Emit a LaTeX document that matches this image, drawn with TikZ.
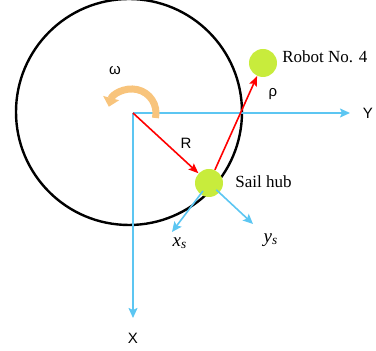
\documentclass[tikz,border=0pt]{standalone}
\usepackage{fontspec}
\setmainfont{Liberation Serif}
\newfontfamily\axisfont{Liberation Sans}
\usetikzlibrary{positioning, arrows.meta}
\definecolor{skyaxis}{HTML}{5CC6F2}
\definecolor{hubgreen}{HTML}{C8EC3C}
\definecolor{spinorange}{HTML}{F8C47C}

\begin{document}
\begin{tikzpicture}[
  x=0.5pt, y=-0.5pt,
  every node/.style={align=center, inner sep=1pt},
  axisarrow/.style={-{Stealth[length=5pt, width=4.5pt, inset=1pt]}, line width=0.8pt, skyaxis},
  vecarrow/.style={-{Stealth[length=5pt, width=4pt, inset=1pt]}, line width=0.8pt, red},
  spinarrow/.style={-{Triangle[length=4.5pt, width=8pt]}, line width=3.5pt, spinorange},
  ball/.style={circle, fill=hubgreen, minimum size=14pt, inner sep=0pt},
  serif/.style={font=\fontsize{8.5}{10}\selectfont},
  sans/.style={font=\axisfont\fontsize{7.5}{9}\selectfont}
]
\useasboundingbox (0,0) rectangle (376,351);

% Wheel
\node[draw=black, line width=1.2pt, circle, minimum size=113pt, inner sep=0pt] (wheel) at (129,112) {};

% Frame origin and axis ends
\coordinate (o) at (133,113);
\coordinate (xtip) at (133,318);
\coordinate (ytip) at (350,113);
\node[sans] (xlab) at (133,338) {X};
\node[sans] (ylab) at (368,113) {Y};

% Axes
\draw[axisarrow] (o) -- (xtip);
\draw[axisarrow] (o) -- (ytip);

% Rotation omega
\coordinate (spin) at (132,113);
\draw[spinarrow] ([shift={(12:24)}]spin) arc[start angle=12, end angle=-165, radius=24];
\node[sans] (omega) at (115,71) {ω};

% Sail hub and robot
\node[ball] (hub) at (209,183) {};
\node[ball] (robot) at (263,63) {};
\node[serif, anchor=west] (hublab) at (233,182) {Sail hub};
\node[serif, anchor=west] (robotlab) at (280,57) {Robot No. 4};

% Vectors R and rho
\draw[vecarrow] (o) -- (hub);
\draw[vecarrow] (hub) -- (robot);
\node[sans] (rlab) at (186,143) {R};
\node[sans] (rholab) at (273,94) {ρ};

% Hub frame
\coordinate (xstip) at (172,232);
\coordinate (ystip) at (253,224);
\draw[axisarrow, shorten <=5pt] (hub.center) -- (xstip);
\draw[axisarrow, shorten <=5pt] (hub.center) -- (ystip);
\node[serif, font=\fontsize{9.5}{11}\selectfont] (xslab) at (180,243) {\itshape x\textsubscript{s}};
\node[serif, font=\fontsize{9.5}{11}\selectfont] (yslab) at (271,240) {\itshape y\textsubscript{s}};

\end{tikzpicture}
\end{document}
